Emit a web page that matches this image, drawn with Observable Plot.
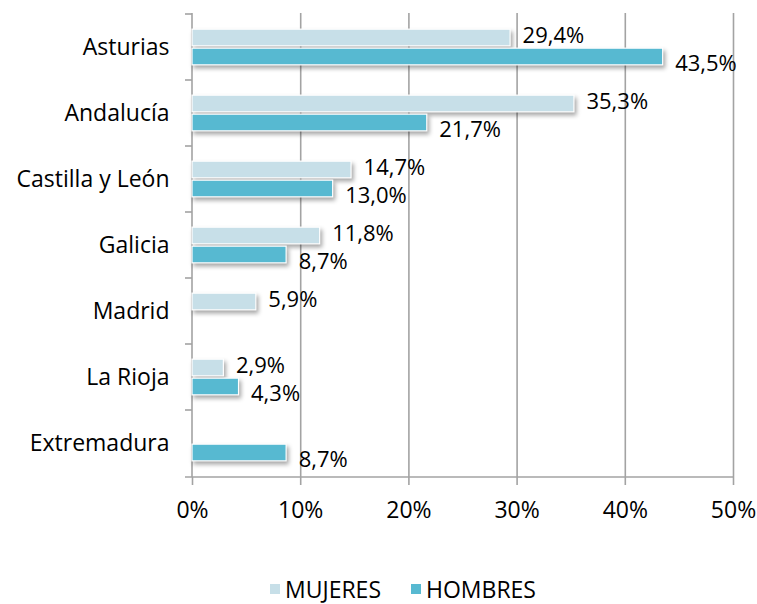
<!DOCTYPE html>
<html>
<head>
<meta charset="utf-8">
<script src="https://cdn.jsdelivr.net/npm/d3@7"></script>
<script src="https://cdn.jsdelivr.net/npm/@observablehq/plot@0.6"></script>
<style>
  body { margin: 0; background: #fff; font-family: "Open Sans", sans-serif; overflow: hidden; }
  #chart svg { display: block; }
  .chart g[aria-label="bar"] rect { filter: drop-shadow(2px 3px 2px rgba(0,0,0,0.35)); }
  #legend { display: flex; align-items: center; height: 58px; padding-left: 270px; font-size: 23px; line-height: 26px; color: #000; }
  #legend .item { display: flex; align-items: center; margin-right: 30px; }
  #legend .sw { width: 10px; height: 10px; margin-right: 5px; }
</style>
</head>
<body>
<div id="chart"></div>
<div id="legend"></div>
<script>
const categories = ["Asturias", "Andalucía", "Castilla y León", "Galicia", "Madrid", "La Rioja", "Extremadura"];
const mujeres = [29.4, 35.3, 14.7, 11.8, 5.9, 2.9, null];
const hombres = [43.5, 21.7, 13.0, 8.7, null, 4.3, 8.7];
const seriesNames = ["MUJERES", "HOMBRES"];
const seriesColors = ["#c7dfe8", "#57b9d1"];
const xTicks = [0, 10, 20, 30, 40, 50];

const W = 757, H = 560;
const mL = 192, mR = 24, mT = 13, mB = 83;
const step = (H - mT - mB) / categories.length;
const barH = 17, gap = 2;
const half = step / 2;

const rowsM = categories.map((c, i) => ({cat: c, v: mujeres[i]})).filter(d => d.v != null);
const rowsH = categories.map((c, i) => ({cat: c, v: hombres[i]})).filter(d => d.v != null);
const fmt = v => v.toFixed(1).replace(".", ",") + "%";
const gray = "#a3a3a3";

const frameLines = (index, scales, values, dims) => {
  const {y} = scales;
  const g = d3.create("svg:g").attr("stroke", gray).attr("stroke-width", 1.6).attr("fill", "none");
  const bottom = dims.height - dims.marginBottom;
  const left = dims.marginLeft;
  g.append("line").attr("x1", left).attr("x2", left).attr("y1", dims.marginTop).attr("y2", bottom);
  g.append("line").attr("x1", left - 7).attr("x2", dims.width - dims.marginRight).attr("y1", bottom).attr("y2", bottom);
  for (const c of categories) {
    const b = y(c);
    g.append("line").attr("x1", left - 7).attr("x2", left).attr("y1", b).attr("y2", b);
  }
  return g.node();
};

const chart = Plot.plot({
  width: W,
  height: H,
  marginLeft: mL,
  marginRight: mR,
  marginTop: mT,
  marginBottom: mB,
  className: "chart",
  style: {fontFamily: "Open Sans, sans-serif", fontSize: "23px", color: "#000", background: "#fff"},
  x: {domain: [0, 50]},
  y: {domain: categories, padding: 0},
  marks: [
    Plot.gridX(xTicks.filter(t => t > 0), {stroke: gray, strokeOpacity: 1, strokeWidth: 1.6}),
    Plot.axisX({ticks: xTicks, tickFormat: d => d + "%", tickSize: 8, tickPadding: 16, stroke: gray, strokeWidth: 1.6, fill: "#000", label: null}),
    Plot.axisY({tickSize: 0, tickPadding: 23, fill: "#000", label: null}),
    frameLines,
    Plot.barX(rowsM, {y: "cat", x: "v", fill: seriesColors[0], stroke: "#fff", strokeWidth: 1.2,
      insetTop: half - gap / 2 - barH, insetBottom: half + gap / 2}),
    Plot.barX(rowsH, {y: "cat", x: "v", fill: seriesColors[1], stroke: "#fff", strokeWidth: 1.2,
      insetTop: half + gap / 2, insetBottom: half - gap / 2 - barH}),
    Plot.text(rowsM, {y: "cat", x: "v", text: d => fmt(d.v), textAnchor: "start", dx: 12, dy: -12, fontSize: 22, fill: "#000"}),
    Plot.text(rowsH, {y: "cat", x: "v", text: d => fmt(d.v), textAnchor: "start", dx: 12, dy: 16, fontSize: 22, fill: "#000"})
  ]
});
document.getElementById("chart").appendChild(chart);

const legend = d3.select("#legend");
seriesNames.forEach((n, i) => {
  const it = legend.append("div").attr("class", "item");
  it.append("div").attr("class", "sw").style("background", seriesColors[i]);
  it.append("span").text(n);
});
</script>
</body>
</html>
